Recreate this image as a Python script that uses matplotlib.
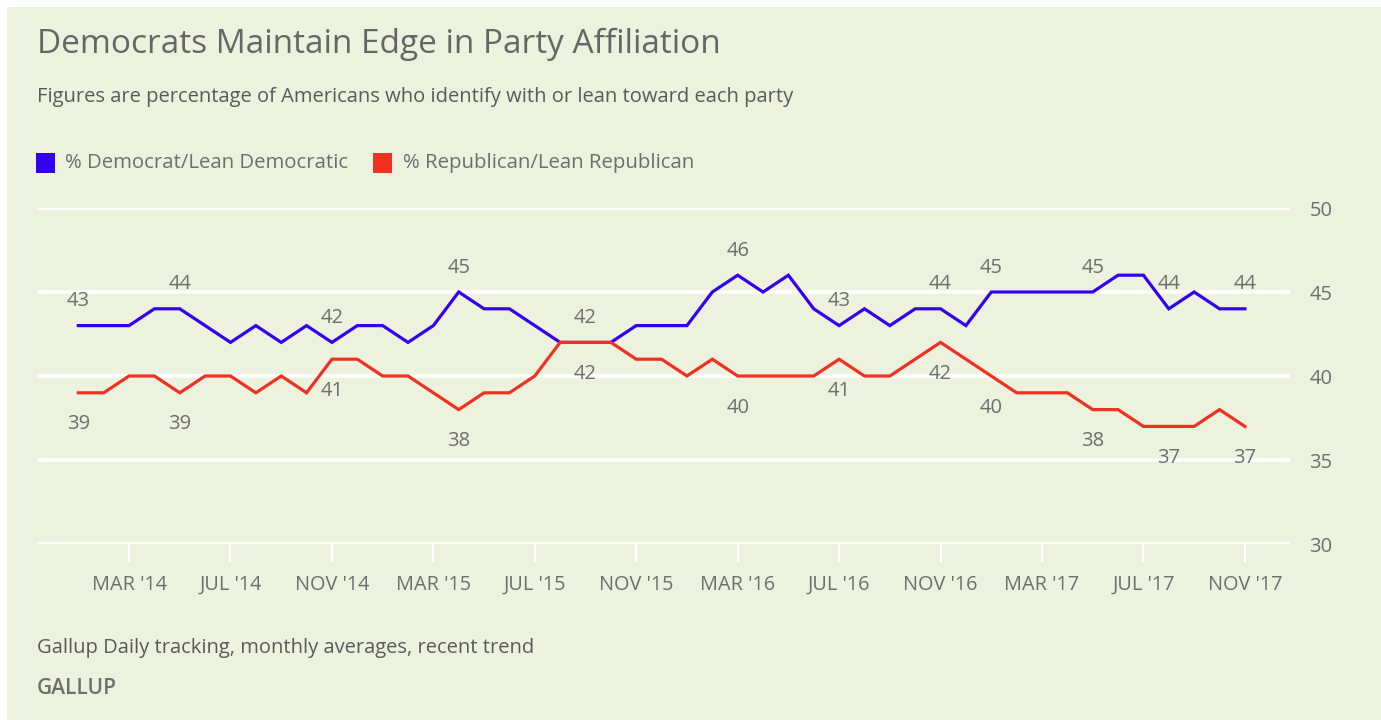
import matplotlib
matplotlib.use("Agg")
import matplotlib.pyplot as plt
from matplotlib.patches import Rectangle

# ---- data ----
months = ["JAN '14","FEB '14","MAR '14","APR '14","MAY '14","JUN '14","JUL '14","AUG '14","SEP '14","OCT '14","NOV '14","DEC '14",
          "JAN '15","FEB '15","MAR '15","APR '15","MAY '15","JUN '15","JUL '15","AUG '15","SEP '15","OCT '15","NOV '15","DEC '15",
          "JAN '16","FEB '16","MAR '16","APR '16","MAY '16","JUN '16","JUL '16","AUG '16","SEP '16","OCT '16","NOV '16","DEC '16",
          "JAN '17","FEB '17","MAR '17","APR '17","MAY '17","JUN '17","JUL '17","AUG '17","SEP '17","OCT '17","NOV '17"]
democrat = [43,43,43,44,44,43,42,43,42,43,42,43,
            43,42,43,45,44,44,43,42,42,42,43,43,
            43,45,46,45,46,44,43,44,43,44,44,43,
            45,45,45,45,45,46,46,44,45,44,44]
republican = [39,39,40,40,39,40,40,39,40,39,41,41,
              40,40,39,38,39,39,40,42,42,42,41,41,
              40,41,40,40,40,40,41,40,40,41,42,41,
              40,39,39,39,38,38,37,37,37,38,37]
labeled_months = ["JAN '14","MAY '14","NOV '14","APR '15","SEP '15","MAR '16","JUL '16",
                  "NOV '16","JAN '17","MAY '17","AUG '17","NOV '17"]
tick_months = ["MAR '14","JUL '14","NOV '14","MAR '15","JUL '15","NOV '15","MAR '16",
               "JUL '16","NOV '16","MAR '17","JUL '17","NOV '17"]
y_ticks = [30, 35, 40, 45, 50]
series_names = ["% Democrat/Lean Democratic", "% Republican/Lean Republican"]

title = "Democrats Maintain Edge in Party Affiliation"
subtitle = "Figures are percentage of Americans who identify with or lean toward each party"
footnote = "Gallup Daily tracking, monthly averages, recent trend"
brand = "GALLUP"

# ---- style ----
BG = "#ECF2DE"
BLUE = "#3300F0"
RED = "#F03020"
GRAY = "#6E6E6E"
DARK = "#5A5A5A"
plt.rcParams["font.family"] = ["Open Sans", "DejaVu Sans"]

W, H = 1381, 720
fig = plt.figure(figsize=(W/100, H/100), dpi=100)
fig.patch.set_facecolor("white")
fig.patches.append(Rectangle((7/W, 0), 1 - 7/W, 1 - 7/H, transform=fig.transFigure,
                             facecolor=BG, edgecolor="none", zorder=-10))

ax = fig.add_axes([37/W, (H-544)/H, (1290-37)/W, 336/H])
ax.set_facecolor("none")
x = list(range(len(months)))
ax.set_xlim(-1.63, 47.78)
ax.set_ylim(30, 50)

for v in y_ticks:
    ax.axhline(v, color="white", lw=2.6, zorder=1)

ax.plot(x, democrat, color=BLUE, lw=2.3, zorder=3, solid_joinstyle="miter")
ax.plot(x, republican, color=RED, lw=2.3, zorder=3, solid_joinstyle="miter")

for m in labeled_months:
    i = months.index(m)
    ax.annotate(str(democrat[i]), (i, democrat[i]), xytext=(0, 17.5), textcoords="offset points",
                ha="center", va="center", fontsize=14.5, color=GRAY, zorder=4)
    ax.annotate(str(republican[i]), (i, republican[i]), xytext=(0, -22.7), textcoords="offset points",
                ha="center", va="center", fontsize=14.5, color=GRAY, zorder=4)

ax.set_xticks([months.index(m) for m in tick_months])
ax.set_xticklabels(tick_months)
ax.tick_params(axis="x", length=13, width=1.6, color="white", pad=9, labelsize=14.3, labelcolor=GRAY)
ax.set_yticks(y_ticks)
ax.yaxis.tick_right()
ax.tick_params(axis="y", length=0, pad=14, labelsize=14.5, labelcolor=GRAY)
for s in ax.spines.values():
    s.set_visible(False)

fig.text(37/W, 1 - 44/H, title, fontsize=24, color="#666666", va="center", ha="left")
fig.text(37/W, 1 - 97/H, subtitle, fontsize=14.5, color=DARK, va="center", ha="left")

# legend
fig.patches.append(Rectangle((36/W, 1 - 173/H), 19/W, 20/H, transform=fig.transFigure,
                             facecolor=BLUE, edgecolor="none"))
fig.text(65/W, 1 - 163/H, series_names[0], fontsize=14.7, color=GRAY, va="center", ha="left")
fig.patches.append(Rectangle((373/W, 1 - 173/H), 19/W, 20/H, transform=fig.transFigure,
                             facecolor=RED, edgecolor="none"))
fig.text(403/W, 1 - 163/H, series_names[1], fontsize=14.7, color=GRAY, va="center", ha="left")

fig.text(37/W, 1 - 648/H, footnote, fontsize=14.5, color=DARK, va="center", ha="left")
fig.text(37/W, 1 - 689/H, brand, fontsize=15, color=GRAY, va="center", ha="left",
         fontweight="semibold")

fig.savefig("out.png", dpi=100, facecolor=fig.get_facecolor())
